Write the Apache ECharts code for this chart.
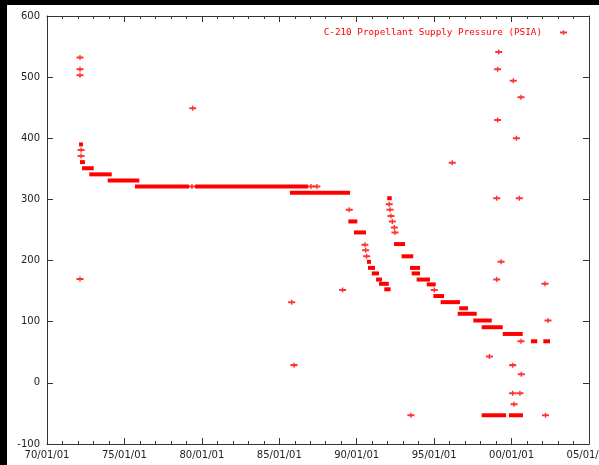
<!DOCTYPE html>
<html>
<head>
<meta charset="utf-8">
<script src="https://cdn.jsdelivr.net/npm/echarts@6/dist/echarts.min.js"></script>
<style>
  html, body { margin: 0; padding: 0; background: #000; }
  #main { position: absolute; left: 7px; top: 5px; width: 592px; height: 460px; background: #fff; }
</style>
</head>
<body>
<div id="main"></div>
<script>
  // dense runs of daily readings: [start year, end year, psia]
  const runStart = [1972.07, 1972.13, 1972.26, 1972.73, 1973.92, 1975.68, 1979.56, 1985.69,
    1989.46, 1989.82, 1990.66, 1990.73, 1990.97, 1991.25, 1991.44, 1991.78,
    1991.97, 1992.41, 1992.90, 1993.44, 1993.55, 1993.87, 1994.52, 1994.95,
    1995.42, 1996.62, 1996.52, 1997.53, 1998.07, 1999.43, 2001.25, 2002.05,
    1998.07, 1999.83];
  const runEnd = [1972.32, 1972.45, 1973.02, 1974.18, 1975.96, 1979.17, 1986.85, 1989.57,
    1990.04, 1990.60, 1990.92, 1991.18, 1991.44, 1991.63, 1992.07, 1992.19,
    1992.26, 1993.12, 1993.65, 1994.09, 1994.09, 1994.73, 1995.10, 1995.64,
    1996.67, 1997.19, 1997.75, 1998.72, 1999.43, 2000.72, 2001.66, 2002.48,
    1999.64, 2000.74];
  const runValue = [390, 361, 351, 341, 331, 321, 321, 311,
    264, 246, 198, 188, 179, 169, 162, 153,
    302, 227, 207, 188, 179, 169, 161, 142,
    132, 122, 113, 102, 91, 80, 68, 68,
    -53, -53];

  // single readings
  const pointYear = [1972.13, 1972.13, 1972.13, 1972.13, 1972.20, 1972.20, 1979.41, 1979.36,
    1987.05, 1987.43, 1985.80, 1985.95, 1989.09, 1989.52, 1990.53, 1990.58,
    1990.64, 1992.10, 1992.15, 1992.21, 1992.30, 1992.43, 1992.47, 1995.01,
    1996.17, 1993.50, 2000.61, 2002.35, 2002.16, 1999.32, 1999.04, 1998.57,
    2000.07, 2000.63, 2000.07, 2000.54, 2000.16, 2002.19, 1999.17, 1999.10,
    2000.11, 2000.61, 1999.10, 2000.31, 1999.04, 2000.50];
  const pointValue = [532, 513, 503, 170, 381, 371, 449, 321,
    321, 321, 132, 29, 152, 283, 226, 217,
    207, 292, 283, 273, 264, 254, 246, 152,
    360, -53, 68, 102, 162, 198, 169, 43,
    29, 14, -17, -17, -35, -53, 541, 513,
    494, 467, 430, 400, 302, 302];

  const seriesName = "C-210 Propellant Supply Pressure (PSIA)";
  const plus = "path://M0,1.6h8v2.2h-8z M3.2,0h1.6v5.4h-1.6z";
  const red = "#ff0000";
  const axisColor = "#333";

  const runs = runStart.map((s, i) => [s, runEnd[i], runValue[i]]);
  const points = pointYear.map((y, i) => [y, pointValue[i]]);

  const chart = echarts.init(document.getElementById("main"));

  const xBase = {
    type: "value",
    min: 1970,
    max: 2005,
    interval: 5,
    axisLine: { show: true, onZero: false, lineStyle: { color: axisColor, width: 1 } },
    axisTick: { show: true, inside: true, length: 6, lineStyle: { color: axisColor } },
    minorTick: { show: true, splitNumber: 5, length: 3, lineStyle: { color: axisColor } },
    splitLine: { show: false }
  };
  const yBase = {
    type: "value",
    min: -100,
    max: 600,
    interval: 100,
    axisLine: { show: true, onZero: false, lineStyle: { color: axisColor, width: 1 } },
    axisTick: { show: true, inside: true, length: 6, lineStyle: { color: axisColor } },
    splitLine: { show: false }
  };

  chart.setOption({
    animation: false,
    grid: { left: 40, right: 10, top: 11, bottom: 21, outerBoundsMode: "none", containLabel: false },
    legend: {
      data: [{ name: seriesName, icon: plus }],
      right: 27,
      top: 18,
      align: "right",
      itemWidth: 7,
      itemHeight: 5,
      selectedMode: false,
      textStyle: {
        color: red,
        fontFamily: "DejaVu Sans Mono",
        fontSize: 9.3,
        padding: [0, 13, 0, 0]
      }
    },
    xAxis: [
      Object.assign({}, xBase, {
        position: "bottom",
        axisLabel: {
          color: "#222",
          fontFamily: "DejaVu Sans",
          fontSize: 10,
          margin: 6,
          formatter: v => String(v % 100).padStart(2, "0") + "/01/01"
        }
      }),
      Object.assign({}, xBase, { position: "top", axisLabel: { show: false } })
    ],
    yAxis: [
      Object.assign({}, yBase, {
        position: "left",
        axisLabel: { color: "#222", fontFamily: "DejaVu Sans", fontSize: 10, margin: 7 }
      }),
      Object.assign({}, yBase, { position: "right", axisLabel: { show: false } })
    ],
    series: [
      {
        type: "custom",
        name: "runs",
        xAxisIndex: 0,
        yAxisIndex: 0,
        encode: { x: [0, 1], y: 2 },
        data: runs,
        renderItem: function (params, api) {
          const a = api.coord([api.value(0), api.value(2)]);
          const b = api.coord([api.value(1), api.value(2)]);
          return {
            type: "rect",
            shape: { x: a[0], y: a[1] - 2, width: b[0] - a[0], height: 4 },
            style: { fill: red }
          };
        }
      },
      {
        type: "scatter",
        name: seriesName,
        xAxisIndex: 0,
        yAxisIndex: 0,
        symbol: plus,
        symbolSize: [7, 5],
        itemStyle: { color: red },
        data: points
      }
    ]
  });
</script>
</body>
</html>
